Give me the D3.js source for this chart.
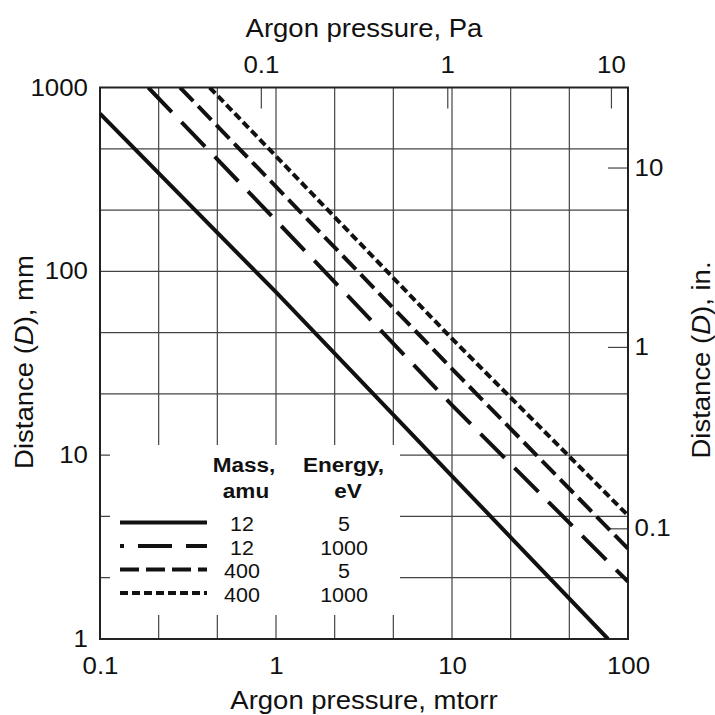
<!DOCTYPE html>
<html>
<head>
<meta charset="utf-8">
<script src="https://cdn.jsdelivr.net/npm/d3@7"></script>
<style>
  html, body { margin: 0; padding: 0; background: #fff; }
  svg { display: block; }
  text { font-family: "Liberation Sans", Arial, Helvetica, sans-serif; fill: #111; }
</style>
</head>
<body>
<svg id="chart" width="715" height="715"></svg>
<script>
// Axis ticks
const pressureTicks = [0.1, 1, 10, 100];      // mtorr, bottom
const distanceTicks = [1, 10, 100, 1000];     // mm, left
const paTicks = [0.1, 1, 10];                 // Pa, top
const paAtMtorr = [0.82, 9.4, 80];            // where each Pa tick sits on the mtorr scale
const inchTicks = [0.1, 1, 10];               // in., right
const inchAtMm = [4.0, 38.8, 367];            // where each inch tick sits on the mm scale

// Curves: mass (amu), ion energy (eV), pressure (mtorr) vs distance (mm)
const seriesMass = [12, 12, 400, 400];
const seriesEnergy = [5, 1000, 5, 1000];
const pressure12x5 = [0.1, 1, 10, 77];
const distance12x5 = [720, 77, 7.7, 1];
const pressure12x1000 = [0.188, 1, 10, 100];
const distance12x1000 = [1000, 189, 18.7, 2.05];
const pressure400x5 = [0.285, 10, 100];
const distance400x5 = [1000, 29.5, 3.1];
const pressure400x1000 = [0.42, 10, 100];
const distance400x1000 = [1000, 43, 4.7];

const curves = [
  { p: pressure12x5, d: distance12x5 },
  { p: pressure12x1000, d: distance12x1000 },
  { p: pressure400x5, d: distance400x5 },
  { p: pressure400x1000, d: distance400x1000 }
];
// line styles per curve
const dashes = [null, "34,14", "19,7", "8,4"];
const legendOffsets = [0, 30, 0, 0];

const svg = d3.select("#chart");
const L = 100, R = 628, T = 87.5, B = 639;
const SX = 1.1; // horizontal stretch of lettering

const x = d3.scaleLog().domain([0.1, 100]).range([L, R]);
const y = d3.scaleLog().domain([1, 1000]).range([B, T]);
const xPa = d3.scaleLog().domain(paTicks).range(paAtMtorr.map(x));
const yIn = d3.scaleLog().domain(inchTicks).range(inchAtMm.map(y));

svg.append("rect").attr("width", 715).attr("height", 715).attr("fill", "#fff");

// grid every third of a decade
const gridX = d3.range(1, 9).map(k => 0.1 * Math.pow(10, k / 3));
const gridY = d3.range(1, 9).map(k => Math.pow(10, k / 3));
const grid = svg.append("g").attr("stroke", "#444").attr("stroke-width", 1.2);
grid.selectAll("line.gx").data(gridX).join("line").attr("class", "gx")
  .attr("x1", d => x(d)).attr("x2", d => x(d)).attr("y1", T).attr("y2", B);
grid.selectAll("line.gy").data(gridY).join("line").attr("class", "gy")
  .attr("y1", d => y(d)).attr("y2", d => y(d)).attr("x1", L).attr("x2", R);

// legend panel hides the grid behind it
svg.append("rect").attr("x", 110).attr("y", 445).attr("width", 290).attr("height", 170).attr("fill", "#fff");

function styleTicks(g) {
  g.select(".domain").remove();
  g.selectAll(".tick line").attr("stroke", "#444").attr("stroke-width", 1.2);
  g.selectAll(".tick text")
    .attr("fill", "#111")
    .style("font-size", "23.5px")
    .attr("transform", `scale(${SX},1)`);
}

// bottom: mtorr
svg.append("g").attr("transform", `translate(0,${B})`)
  .call(d3.axisBottom(x).tickValues(pressureTicks).tickSize(0).tickPadding(18)
    .tickFormat(d3.format("~g")))
  .call(styleTicks);

// left: mm
svg.append("g").attr("transform", `translate(${L},0)`)
  .call(d3.axisLeft(y).tickValues(distanceTicks).tickSize(0).tickPadding(11)
    .tickFormat(d3.format("d")))
  .call(styleTicks);

// top: Pa
svg.append("g").attr("transform", `translate(0,${T})`)
  .call(d3.axisTop(xPa).tickValues(paTicks).tickSizeInner(-21).tickSizeOuter(0).tickPadding(14.5)
    .tickFormat(d3.format("~g")))
  .call(styleTicks);

// right: inches
svg.append("g").attr("transform", `translate(${R},0)`)
  .call(d3.axisRight(yIn).tickValues(inchTicks).tickSizeInner(-20).tickSizeOuter(0).tickPadding(6)
    .tickFormat(d3.format("~g")))
  .call(styleTicks);

// plot frame
svg.append("rect").attr("x", L).attr("y", T).attr("width", R - L).attr("height", B - T)
  .attr("fill", "none").attr("stroke", "#222").attr("stroke-width", 2);

// curves
svg.append("clipPath").attr("id", "plotClip")
  .append("rect").attr("x", L).attr("y", T).attr("width", R - L).attr("height", B - T);

const line = d3.line().x(d => x(d[0])).y(d => y(d[1]));
svg.append("g").attr("clip-path", "url(#plotClip)")
  .selectAll("path").data(curves).join("path")
  .attr("d", c => line(c.p.map((p, i) => [p, c.d[i]])))
  .attr("fill", "none").attr("stroke", "#111").attr("stroke-width", 4)
  .attr("stroke-dasharray", (c, i) => dashes[i]);

// titles
function title(txt, tx, ty, rot, size, italicPart) {
  const t = svg.append("text")
    .attr("transform", `translate(${tx},${ty}) rotate(${rot}) scale(${SX},1)`)
    .attr("text-anchor", "middle")
    .style("font-size", size + "px");
  if (italicPart) {
    txt.split(/(\(D\))/).forEach(part => {
      if (part === "(D)") {
        t.append("tspan").text("(");
        t.append("tspan").style("font-style", "italic").text("D");
        t.append("tspan").text(")");
      } else {
        t.append("tspan").text(part);
      }
    });
  } else {
    t.text(txt);
  }
  return t;
}
title("Argon pressure, mtorr", 364, 709, 0, 25);
title("Argon pressure, Pa", 364, 37, 0, 25);
title("Distance (D), mm", 33, 362, -90, 25, true);
title("Distance (D), in.", 710, 360, -90, 25, true);

// legend
const lg = svg.append("g");
function ltext(txt, cx, by, size, bold) {
  lg.append("text")
    .attr("transform", `translate(${cx},${by}) scale(${SX},1)`)
    .attr("text-anchor", "middle")
    .style("font-size", size + "px")
    .style("font-weight", bold ? "bold" : "normal")
    .text(txt);
}
ltext("Mass,", 244, 472, 20.5, true);
ltext("amu", 246, 498, 20.5, true);
ltext("Energy,", 343.5, 472, 20.5, true);
ltext("eV", 348, 498, 20.5, true);

const rowBase = [531, 554.5, 578, 601.5];
seriesMass.forEach((m, i) => {
  const by = rowBase[i];
  lg.append("line")
    .attr("x1", 120).attr("x2", 207).attr("y1", by - 8.5).attr("y2", by - 8.5)
    .attr("stroke", "#111").attr("stroke-width", 4)
    .attr("stroke-dasharray", dashes[i])
    .attr("stroke-dashoffset", legendOffsets[i]);
  ltext(String(m), 242, by, 19.5, false);
  ltext(String(seriesEnergy[i]), 344, by, 19.5, false);
});
</script>
</body>
</html>
